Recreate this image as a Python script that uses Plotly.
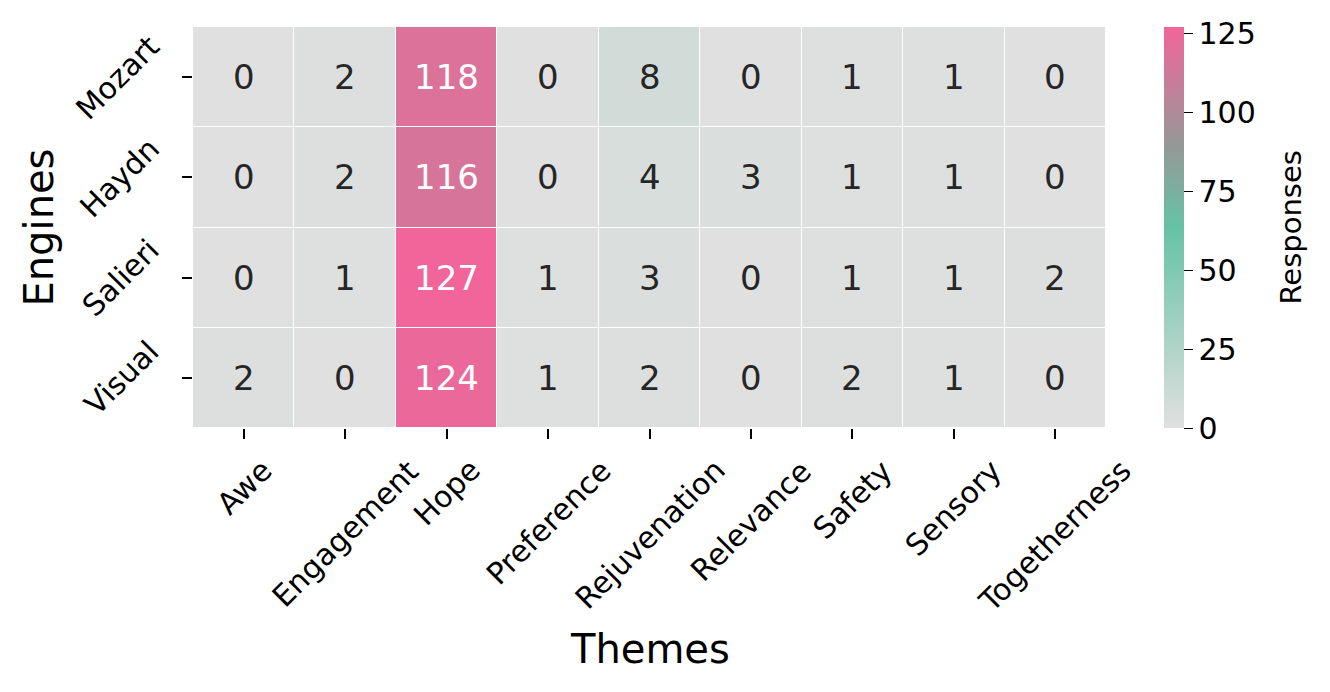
import plotly.graph_objects as go

themes = ["Awe", "Engagement", "Hope", "Preference", "Rejuvenation",
          "Relevance", "Safety", "Sensory", "Togetherness"]
engines = ["Mozart", "Haydn", "Salieri", "Visual"]

mozart = [0, 2, 118, 0, 8, 0, 1, 1, 0]
haydn = [0, 2, 116, 0, 4, 3, 1, 1, 0]
salieri = [0, 1, 127, 1, 3, 0, 1, 1, 2]
visual = [2, 0, 124, 1, 2, 0, 2, 1, 0]

cbar_ticks = [0, 25, 50, 75, 100, 125]

z = [mozart, haydn, salieri, visual]
zmax = max(max(r) for r in z)

# light grey -> green -> grey -> pink, roughly like the seaborn blend palette
cscale = [[0.0, "#e0e0e0"], [0.5, "#66c2a5"], [0.71, "#979797"], [1.0, "#f2659a"]]

FONT = "DejaVu Sans"

fig = go.Figure(go.Heatmap(
    z=z, x=themes, y=engines, zmin=0, zmax=zmax,
    colorscale=cscale, xgap=1, ygap=1,
    colorbar=dict(
        thickness=20, len=1, lenmode="fraction",
        x=1.0635, xanchor="left", xpad=0,
        y=0.5, yanchor="middle", ypad=0, outlinewidth=0,
        tickvals=cbar_ticks, ticks="outside", ticklen=9, tickcolor="black",
        tickfont=dict(size=30, family=FONT, color="black"),
    ),
    hoverinfo="skip",
))

# cell labels, white on the dark column
for r, eng in enumerate(engines):
    for c, th in enumerate(themes):
        v = z[r][c]
        fig.add_annotation(x=th, y=eng, text=str(v), showarrow=False,
                           font=dict(size=34, family=FONT,
                                     color="white" if v > 60 else "#262626"))

# rotated tick labels (matplotlib style: centred on tick / right-aligned)
for th in themes:
    fig.add_annotation(x=th, xref="x", y=0, yref="paper", text=th, showarrow=False,
                       textangle=-45, xanchor="center", yanchor="top", yshift=-22,
                       font=dict(size=30, family=FONT, color="black"))
for eng in engines:
    fig.add_annotation(x=0, xref="paper", y=eng, yref="y", text=eng, showarrow=False,
                       textangle=-45, xanchor="right", yanchor="middle", xshift=-24,
                       font=dict(size=30, family=FONT, color="black"))

# axis titles
fig.add_annotation(x=0.5, xref="paper", y=0, yref="paper", text="Themes",
                   showarrow=False, xanchor="center", yanchor="middle", yshift=-221,
                   font=dict(size=40, family=FONT, color="black"))
fig.add_annotation(x=0, xref="paper", y=0.5, yref="paper", text="Engines",
                   showarrow=False, textangle=-90, xanchor="center", yanchor="middle",
                   xshift=-155, font=dict(size=40, family=FONT, color="black"))
fig.add_annotation(x=1, xref="paper", y=0.5, yref="paper", text="Responses",
                   showarrow=False, textangle=-90, xanchor="center", yanchor="middle",
                   xshift=184, font=dict(size=29, family=FONT, color="black"))

# fixed ranges, otherwise the label annotations widen the autorange
fig.update_xaxes(range=[-0.5, len(themes) - 0.5], showticklabels=False,
                 ticks="outside", ticklen=10, tickwidth=1.5,
                 tickcolor="black", showgrid=False, zeroline=False)
fig.update_yaxes(range=[len(engines) - 0.5, -0.5], showticklabels=False,
                 ticks="outside", ticklen=10, tickwidth=1.5, tickcolor="black",
                 showgrid=False, zeroline=False)

# page body has an 8px margin, so the figure is 16px smaller than the window
fig.update_layout(
    width=1314, height=676,
    margin=dict(l=185, r=216, t=19, b=256, autoexpand=False),
    plot_bgcolor="white", paper_bgcolor="white",
    font=dict(family=FONT, color="black"),
)

fig.write_html("out.html")
